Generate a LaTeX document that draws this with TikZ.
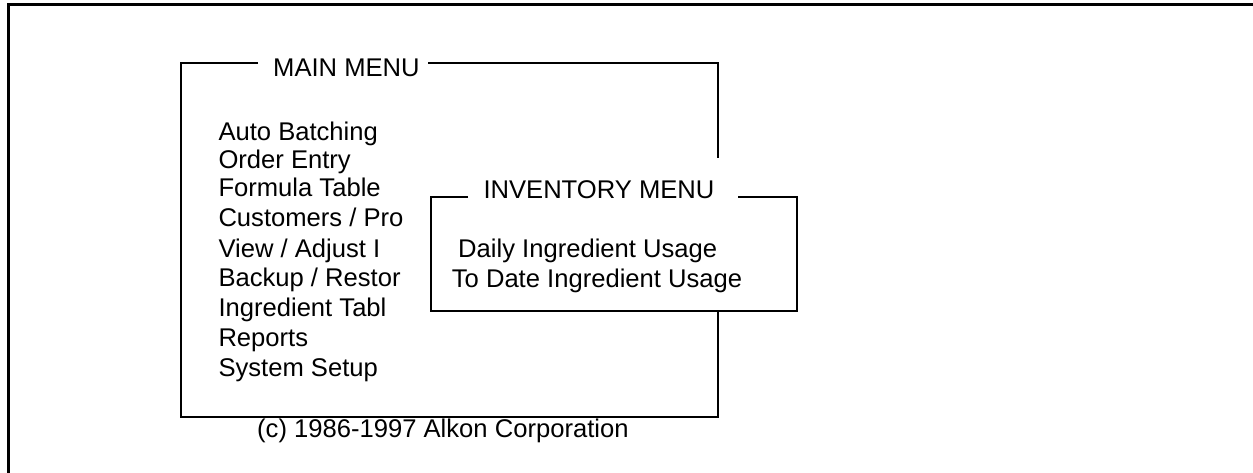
\documentclass[tikz,border=0pt]{standalone}
\usepackage{fontspec}
\setmainfont{Liberation Sans}
\begin{document}
\begin{tikzpicture}[x=1pt,y=-1pt,
  boxline/.style={line width=2pt},
  outerline/.style={line width=3pt},
  txt/.style={anchor=base west, inner sep=0pt, font=\fontsize{25.6}{30}\selectfont}]
\useasboundingbox (0,0) rectangle (1253,472);
\fill[white] (0,0) rectangle (1253,472);
% outer frame (only top and left edges visible)
\draw[outerline] (8,480) -- (8,4.8) -- (1262,4.8);

% MAIN MENU box
\node[txt] (mt) at (273,76.7) {MAIN MENU};
\coordinate (mtl) at (258,63);
\coordinate (mtr) at (428,63);
\draw[boxline] (mtl) -- (180.5,63) -- (180.5,416.5) -- (718,416.5) -- (718,311);
\draw[boxline] (mtr) -- (718,63) -- (718,158);

\node[txt] (m1) at (218.3,140.5) {Auto Batching};
\node[txt] (m2) at (218.3,168.5) {Order Entry};
\node[txt] (m3) at (218.3,196.7) {Formula Table};
\node[txt] (m4) at (218.3,226.7) {Customers / Pro};
\node[txt] (m5) at (218.3,257) {View / Adjust I};
\node[txt] (m6) at (218.3,286.7) {Backup / Restor};
\node[txt] (m7) at (218.3,316.7) {Ingredient Tabl};
\node[txt] (m8) at (218.3,346.7) {Reports};
\node[txt] (m9) at (218.3,376.7) {System Setup};

\node[txt] (copy) at (257,437) {(c) 1986-1997 Alkon Corporation};

% INVENTORY MENU box
\node[txt] (it) at (483.3,198.3) {INVENTORY MENU};
\coordinate (itl) at (468,196.7);
\coordinate (itr) at (738,196.7);
\draw[boxline] (itl) -- (430.8,196.7) -- (430.8,311) -- (797,311) -- (797,196.7) -- (itr);

\node[txt] (i1) at (458,257) {Daily Ingredient Usage};
\node[txt] (i2) at (451.7,287) {To Date Ingredient Usage};
\end{tikzpicture}
\end{document}
